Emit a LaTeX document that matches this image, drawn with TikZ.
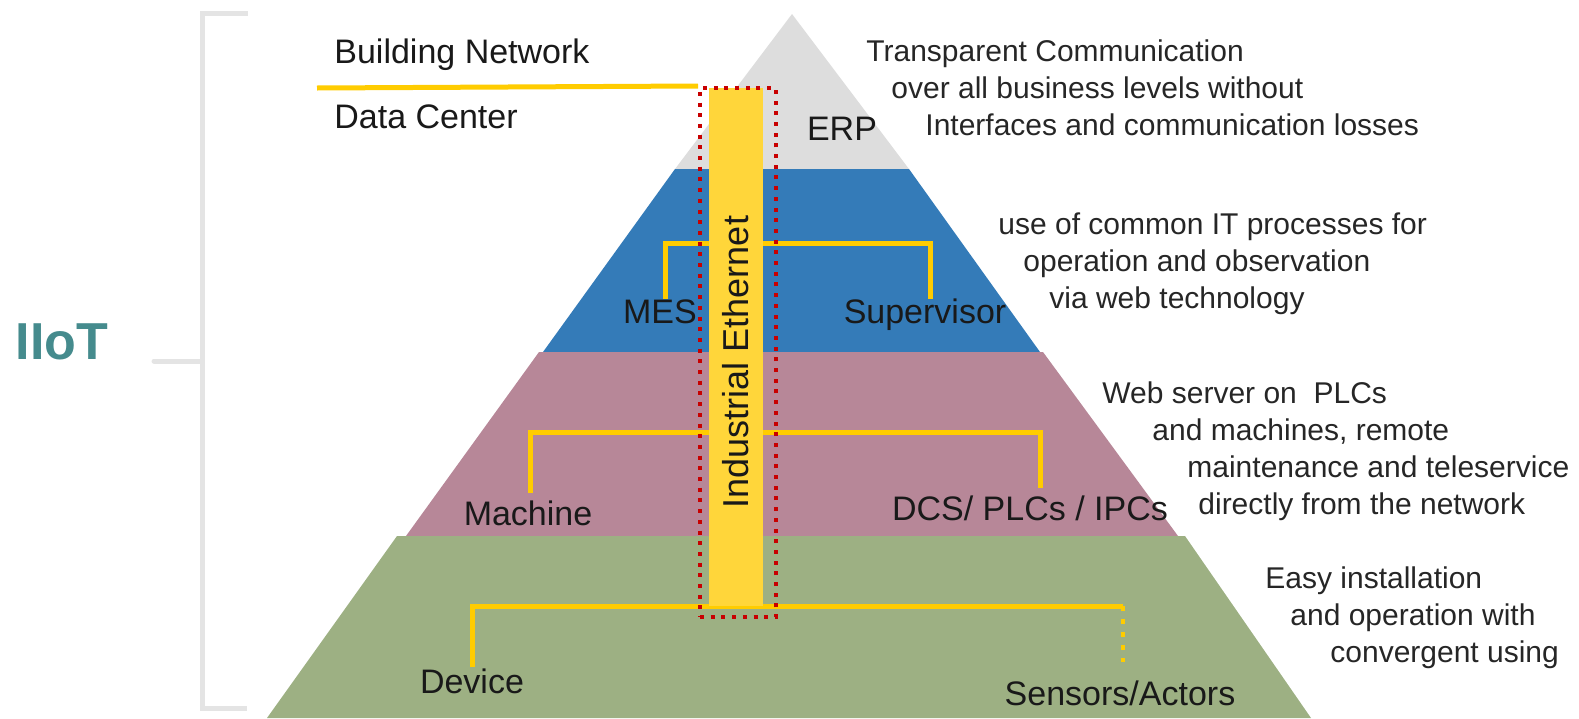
\documentclass[tikz,border=0pt]{standalone}
\usepackage{fontspec}
\setmainfont{Liberation Sans}
\usetikzlibrary{positioning}

\definecolor{erpGray}{RGB}{221,221,221}
\definecolor{mesBlue}{RGB}{52,123,184}
\definecolor{plcPink}{RGB}{183,135,152}
\definecolor{fieldGreen}{RGB}{157,176,131}
\definecolor{busYellow}{RGB}{255,204,0}
\definecolor{colYellow}{RGB}{255,214,58}
\definecolor{dotRed}{RGB}{200,0,0}
\definecolor{iiotTeal}{RGB}{69,139,141}
\definecolor{braceGray}{RGB}{228,228,228}

\begin{document}
\begin{tikzpicture}[x=0.5pt, y=-0.5pt, every node/.style={inner sep=0pt},
  level/.style={font=\fontsize{17}{20}\selectfont, text=black!90, text height=12pt, text depth=3.5pt},
  note/.style={font=\fontsize{15}{18.5}\selectfont, text=black!85, align=left, anchor=north west},
  bus/.style={busYellow, line width=2.5pt}]

\useasboundingbox (0,0) rectangle (1579,718);

% Pyramid levels
\fill[erpGray] (792,14) -- (675,169) -- (909,169) -- cycle;
\fill[mesBlue] (675,169) -- (909,169) -- (1040,352) -- (543,352) -- cycle;
\fill[plcPink] (539,352) -- (1043,352) -- (1178,536) -- (406,536) -- cycle;
\fill[fieldGreen] (397,536) -- (1185,536) -- (1311,718) -- (267,718) -- cycle;

% IIoT bracket
\draw[braceGray, line width=2.5pt] (248,13) -- (202,13) -- (202,708) -- (247,708);
\draw[braceGray, line width=2.5pt, line cap=round] (154,361) -- (202,361);
\node (iiot) [font=\fontsize{26}{30}\selectfont\bfseries, text=iiotTeal] at (62,342) {IIoT};

% Level labels
\node (bldNet) [level, anchor=west] at (334,55) {Building Network};
\node (dataCtr) [level, below=32.5pt of bldNet.west, anchor=west] {Data Center};
\node (erp) [level] at (842,132) {ERP};
\node (mes) [level] at (660,315) {MES};
\node (sup) [level] at (925,315) {Supervisor};
\node (machine) [level] at (528,517) {Machine};
\node (dcs) [level] at (1030,512) {DCS/ PLCs / IPCs};
\node (device) [level] at (472,685) {Device};
\node (sensors) [level] at (1120,697) {Sensors/Actors};

% Bus lines
\coordinate (bldStart) at (317,88);
\coordinate (busIT) at (790,243);
\coordinate (busPLC) at (790,432);
\coordinate (busField) at (790,606);
\coordinate (sensorDrop) at ([xshift=1.5pt]sensors.north |- busField);
\draw[bus] ([xshift=2.5pt]mes.north) |- (busIT) -| ([xshift=2.5pt]sup.north);
\draw[bus] ([xshift=1pt,yshift=4.25pt]machine.north) |- (busPLC) -| ([xshift=5pt,yshift=4.25pt]dcs.north);
\draw[bus] ([yshift=1.25pt]device.north) |- (busField) -- (sensorDrop);
\draw[bus, line width=2pt, dash pattern=on 2.5pt off 4pt] (sensorDrop) -- ([xshift=1.5pt,yshift=9.75pt]sensors.north);

% Industrial Ethernet column
\node (ethCol) [fill=colYellow, minimum width=27pt, minimum height=259pt] at (736,347) {};
\node (ethBox) [draw=dotRed, line width=2pt, dash pattern=on 2pt off 3.35pt, minimum width=38pt, minimum height=264.5pt] at (738,352.5) {};
\node (ethLbl) [rotate=90, font=\fontsize{18}{20}\selectfont, text=black!90] at (736,362) {Industrial Ethernet};
\draw[bus] (bldStart) -- (ethBox.north west);

% Notes on the right
\node (erpNote) [note] at (866,39) {Transparent Communication\\\hspace*{12.5pt}over all business levels without\\\hspace*{29.5pt}Interfaces and communication losses};
\node (mesNote) [note] at (998,212) {use of common IT processes for\\\hspace*{12.5pt}operation and observation\\\hspace*{25.5pt}via web technology};
\node (plcNote) [note] at (1102,381) {Web server on~ PLCs\\\hspace*{25pt}and machines, remote\\\hspace*{42.5pt}maintenance and teleservice\\\hspace*{48pt}directly from the network};
\node (fieldNote) [note] at (1265,566) {Easy installation\\\hspace*{12.5pt}and operation with\\\hspace*{32.5pt}convergent using};

\end{tikzpicture}
\end{document}
